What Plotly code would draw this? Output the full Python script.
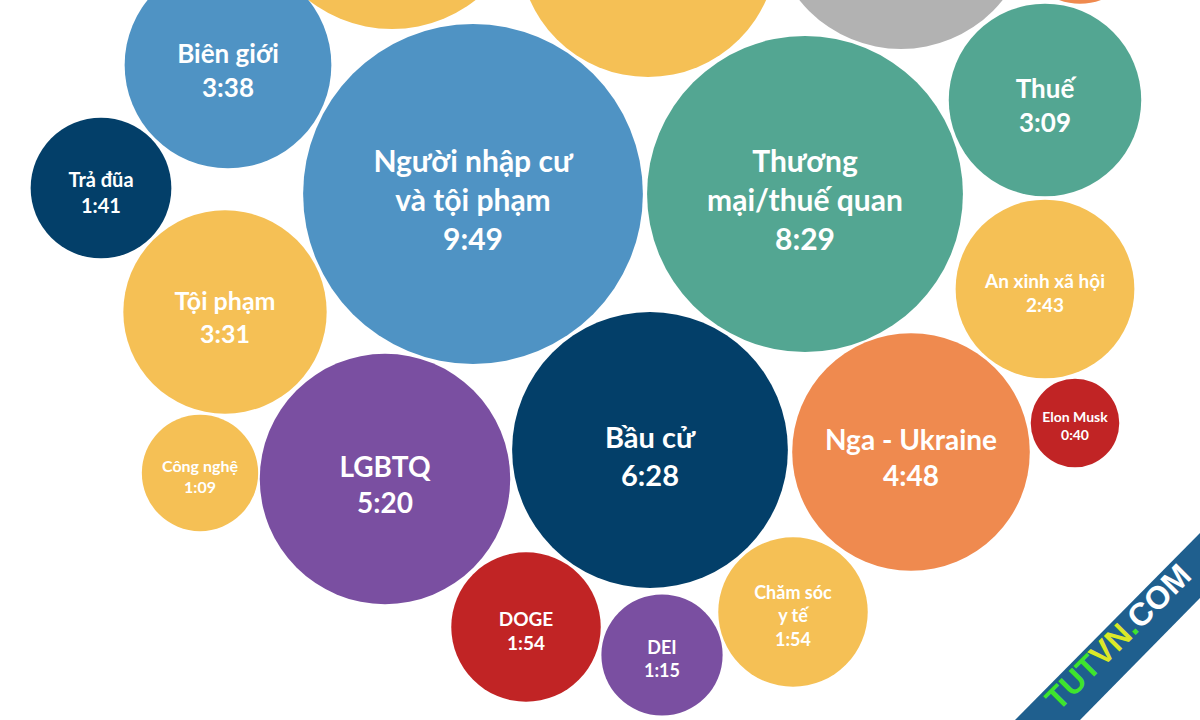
import plotly.graph_objects as go

# -------------------------------------------------------------
# Dữ liệu: chủ đề, thời lượng (phút:giây), màu nhóm
# -------------------------------------------------------------
labels = [
    "Người nhập cư<br>và tội phạm", "Thương<br>mại/thuế quan", "Bầu cử", "LGBTQ",
    "Nga - Ukraine", "Biên giới", "Tội phạm", "Thuế", "An xinh xã hội",
    "DOGE", "Chăm sóc<br>y tế", "Trả đũa", "DEI", "Công nghệ", "Elon Musk",
    "", "", "", "",
]
durations = [
    "9:49", "8:29", "6:28", "5:20", "4:48", "3:38", "3:31", "3:09", "2:43",
    "1:54", "1:54", "1:41", "1:15", "1:09", "0:40",
    "6:12", "5:40", "5:45", "1:13",
]
groups = [
    "blue", "teal", "navy", "purple", "orange", "blue", "yellow", "teal", "yellow",
    "red", "yellow", "navy", "purple", "yellow", "red",
    "yellow", "yellow", "gray", "orange",
]

# vị trí tâm bong bóng (bố cục dạng packing, đơn vị = pixel)
cx = [473, 805, 650, 385, 911, 228, 225, 1045, 1045, 526, 793, 101, 662, 200, 1075, 392, 648, 901, 1080]
cy = [194, 194, 450, 479, 452, 65, 312, 100, 289, 627, 612, 188, 655, 473, 423, -106, -52, -81, -56]
font_sizes = [30, 30, 29, 28, 28, 26, 25, 26, 19, 19, 18, 20, 18, 16, 14, 10, 10, 10, 10]

palette = {
    "blue": "#4f93c4", "teal": "#53a692", "navy": "#033f69", "purple": "#7a4fa1",
    "orange": "#ef8a4f", "yellow": "#f5c055", "red": "#c12425", "gray": "#b2b2b2",
}

def to_sec(s):
    m, ss = s.split(":")
    return int(m) * 60 + int(ss)

seconds = [to_sec(d) for d in durations]
colors = [palette[g] for g in groups]
texts = ["" if lab == "" else "<b>" + lab + "<br>" + d + "</b>" for lab, d in zip(labels, durations)]
# chữ hơi lệch xuống so với tâm (như bản gốc)
ty = [y + 0.33 * f for y, f in zip(cy, font_sizes)]

fig = go.Figure()
# bán kính ~ 7 px * sqrt(giây)  ->  sizeref = 1/(2*7^2)
fig.add_trace(go.Scatter(
    x=cx, y=cy, mode="markers",
    marker=dict(size=seconds, sizemode="area", sizeref=1 / 98.0,
                color=colors, opacity=1, line=dict(width=0)),
    hoverinfo="skip",
))
fig.add_trace(go.Scatter(
    x=cx, y=ty, mode="text",
    text=texts, textposition="middle center",
    textfont=dict(family="Lato, Open Sans, sans-serif", size=font_sizes, color="white"),
    hoverinfo="skip",
))

# watermark dải chéo góc dưới phải
fig.add_shape(type="path", path="M 1015 720 L 1200 533 L 1200 598 L 1080 720 Z",
              xref="x", yref="y", fillcolor="#1f5f8e", line=dict(width=0), layer="above")
fig.add_annotation(
    x=1118, y=637, xref="x", yref="y", showarrow=False, textangle=-45,
    text="<b><span style='color:#3fe42d'>TUT</span><span style='color:#dbe827'>VN</span>"
         "<span style='color:#3fe42d'>.</span><span style='color:white'>COM</span></b>",
    font=dict(family="Liberation Sans, Arial, sans-serif", size=32),
)

fig.update_layout(
    width=1200, height=720,
    margin=dict(l=0, r=0, t=0, b=0),
    paper_bgcolor="white", plot_bgcolor="white",
    showlegend=False,
    xaxis=dict(range=[0, 1200], visible=False, fixedrange=True),
    yaxis=dict(range=[720, 0], visible=False, fixedrange=True),
)

fig.write_html("out.html", config={"displayModeBar": False},
               post_script="document.body.style.margin='0';")
